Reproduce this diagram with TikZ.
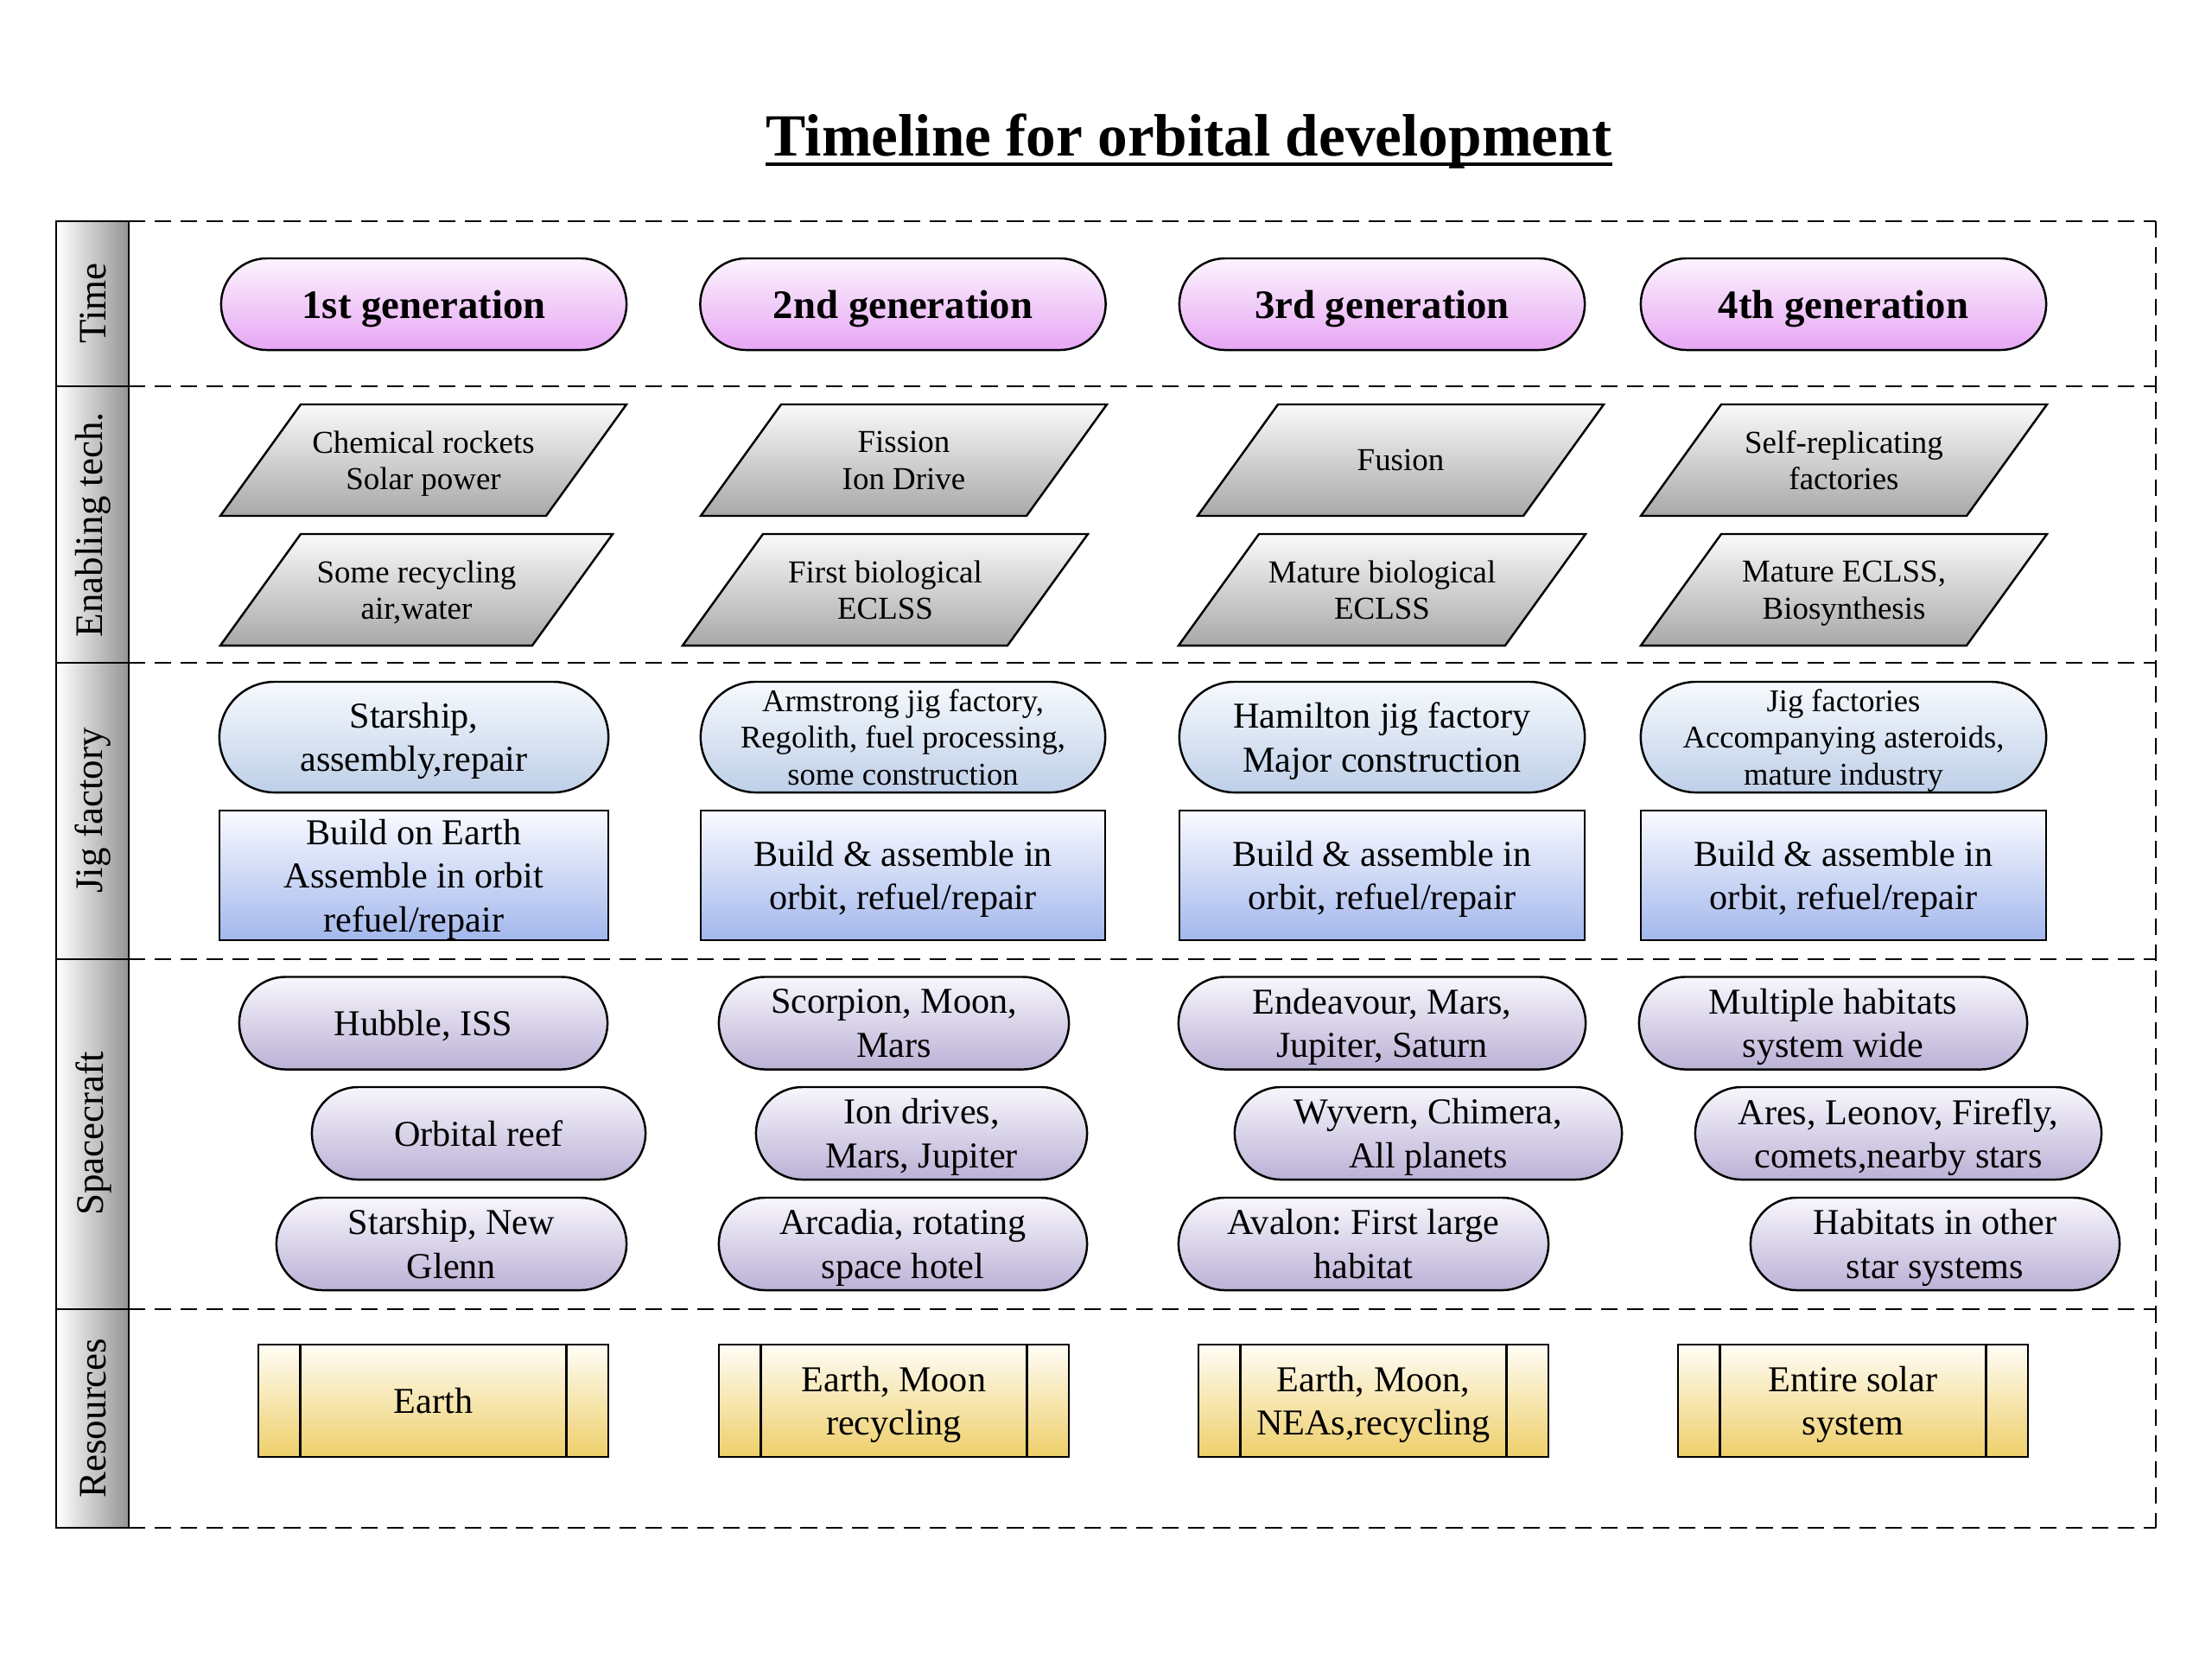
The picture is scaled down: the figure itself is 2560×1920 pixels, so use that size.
\documentclass[tikz,border=0pt]{standalone}
\usepackage{fontspec}
\setmainfont{Liberation Serif}
\usetikzlibrary{calc}
\frenchspacing
\definecolor{pinkT}{RGB}{252,244,253}
\definecolor{pinkB}{RGB}{230,166,244}
\definecolor{grayT}{RGB}{250,250,250}
\definecolor{grayB}{RGB}{168,168,168}
\definecolor{jpT}{RGB}{247,250,253}
\definecolor{jpB}{RGB}{190,207,232}
\definecolor{jrT}{RGB}{250,251,255}
\definecolor{jrB}{RGB}{163,183,236}
\definecolor{scT}{RGB}{248,246,252}
\definecolor{scB}{RGB}{187,177,214}
\definecolor{resT}{RGB}{255,253,246}
\definecolor{resB}{RGB}{238,207,106}
\tikzset{
  base/.style={draw=black, line width=0.7pt, align=center, inner sep=0pt, text depth=0pt,
    font=\fontsize{12}{14.4}\selectfont},
  timepill/.style={base, top color=pinkT, bottom color=pinkB, minimum width=4.69cm,
    minimum height=1.06cm, rounded corners=0.53cm, font=\fontsize{13.3}{16}\selectfont\bfseries},
  paral/.style={draw=black, line width=0.7pt, top color=grayT, bottom color=grayB},
  ptext/.style={align=center, inner sep=0pt, text depth=0pt, font=\fontsize{10.5}{12.1}\selectfont},
  jigpill/.style={base, top color=jpT, bottom color=jpB, minimum height=1.28cm, rounded corners=0.64cm},
  jigsmall/.style={jigpill, font=\fontsize{10.4}{12.1}\selectfont},
  jigrect/.style={base, top color=jrT, bottom color=jrB, minimum height=1.50cm},
  scpill/.style={base, top color=scT, bottom color=scB, minimum height=1.07cm, rounded corners=0.535cm},
  resbox/.style={base, top color=resT, bottom color=resB, minimum width=4.05cm, minimum height=1.30cm},
  rowlab/.style={rotate=90, inner sep=0pt, font=\fontsize{12.8}{15}\selectfont},
  dashline/.style={line width=0.8pt, dash pattern=on 5.5pt off 3pt},
  solidline/.style={line width=0.8pt}
}
\newcommand{\paral}[5]{%
  \path[paral] ({#2+93},{#4}) -- ({#2+93+#3},{#4}) -- ({#2+#3},{#4+129}) -- ({#2},{#4+129}) -- cycle;
  \node[ptext] (#1) at ({#2+#3/2+46.5},{#4+64.5}) {#5};
}
\newcommand{\resbars}[1]{%
  \draw[line width=0.7pt] ([xshift=0.5cm]#1.north west) -- ([xshift=0.5cm]#1.south west);
  \draw[line width=0.7pt] ([xshift=-0.5cm]#1.north east) -- ([xshift=-0.5cm]#1.south east);
}
\begin{document}
\begin{tikzpicture}[x=0.01cm, y=-0.01cm]
\useasboundingbox (0,0) rectangle (2560,1920);
\fill[white] (0,0) rectangle (2560,1920);

% title
\node[inner sep=0pt, font=\fontsize{19.7}{24}\selectfont\bfseries] (title) at (1376,163) {Timeline for orbital development};
\draw[line width=1pt] ([yshift=-2.8pt]title.base west) -- ([yshift=-2.8pt]title.base east);

% frame
\path[draw, solidline, left color=white, right color=black!42] (65,256) rectangle (149,1768);
\foreach \yy in {447,767,1110,1515} \draw[solidline] (65,\yy) -- (149,\yy);
\foreach \yy in {256,447,767,1110,1515,1768} \draw[dashline] (149,\yy) -- (2495,\yy);
\draw[dashline] (2495,256) -- (2495,1768);

% row labels
\node[rowlab] (lTime) at (108,351) {Time};
\node[rowlab] (lTech) at (108,607) {Enabling tech.};
\node[rowlab] (lJig) at (108,938) {Jig factory};
\node[rowlab] (lCraft) at (108,1312) {Spacecraft};
\node[rowlab] (lRes) at (108,1641) {Resources};

% time row
\node[timepill] (t1) at (490.5,352) {1st generation};
\node[timepill] (t2) at (1045,352) {2nd generation};
\node[timepill] (t3) at (1599.5,352) {3rd generation};
\node[timepill] (t4) at (2133.5,352) {4th generation};

% enabling tech
\paral{e1a}{255}{377}{468}{Chemical rockets\\Solar power}
\paral{e1b}{255}{361}{618}{Some recycling\\air,water}
\paral{e2a}{811}{377}{468}{Fission\\Ion Drive}
\paral{e2b}{790}{376}{618}{First biological\\ECLSS}
\paral{e3a}{1386}{377}{468}{Fusion}
\paral{e3b}{1364}{378}{618}{Mature biological\\ECLSS}
\paral{e4a}{1899}{377}{468}{Self-replicating\\factories}
\paral{e4b}{1899}{377}{618}{Mature ECLSS,\\Biosynthesis}

% jig factory
\node[jigpill, minimum width=4.50cm] (j1) at (479,853) {Starship,\\assembly,repair};
\node[jigsmall, minimum width=4.68cm] (j2) at (1045,853) {Armstrong jig factory,\\Regolith, fuel processing,\\some construction};
\node[jigpill, minimum width=4.69cm] (j3) at (1599.5,853) {Hamilton jig factory\\Major construction};
\node[jigsmall, minimum width=4.69cm] (j4) at (2133.5,853) {Jig factories\\Accompanying asteroids,\\mature industry};
\node[jigrect, minimum width=4.50cm] (b1) at (479,1013) {Build on Earth\\Assemble in orbit\\refuel/repair};
\node[jigrect, minimum width=4.68cm] (b2) at (1045,1013) {Build \& assemble in\\orbit, refuel/repair};
\node[jigrect, minimum width=4.69cm] (b3) at (1599.5,1013) {Build \& assemble in\\orbit, refuel/repair};
\node[jigrect, minimum width=4.69cm] (b4) at (2133.5,1013) {Build \& assemble in\\orbit, refuel/repair};

% spacecraft
\node[scpill, minimum width=4.26cm] (s11) at (490,1184) {Hubble, ISS};
\node[scpill, minimum width=3.86cm] (s12) at (554,1311.5) {Orbital reef};
\node[scpill, minimum width=4.05cm] (s13) at (522.5,1439.5) {Starship, New\\Glenn};
\node[scpill, minimum width=4.05cm] (s21) at (1034.5,1184) {Scorpion, Moon,\\Mars};
\node[scpill, minimum width=3.83cm] (s22) at (1066.5,1311.5) {Ion drives,\\Mars, Jupiter};
\node[scpill, minimum width=4.26cm] (s23) at (1045,1439.5) {Arcadia, rotating\\space hotel};
\node[scpill, minimum width=4.71cm] (s31) at (1599.5,1184) {Endeavour, Mars,\\Jupiter, Saturn};
\node[scpill, minimum width=4.48cm] (s32) at (1653,1311.5) {Wyvern, Chimera,\\All planets};
\node[scpill, minimum width=4.28cm] (s33) at (1578,1439.5) {Avalon: First large\\habitat};
\node[scpill, minimum width=4.49cm] (s41) at (2121.5,1184) {Multiple habitats\\system wide};
\node[scpill, minimum width=4.70cm] (s42) at (2197,1311.5) {Ares, Leonov, Firefly,\\comets,nearby stars};
\node[scpill, minimum width=4.27cm] (s43) at (2239.5,1439.5) {Habitats in other\\star systems};

% resources
\node[resbox] (r1) at (501.5,1621) {Earth};
\node[resbox] (r2) at (1034.5,1621) {Earth, Moon\\recycling};
\node[resbox] (r3) at (1589.5,1621) {Earth, Moon,\\NEAs,recycling};
\node[resbox] (r4) at (2144.5,1621) {Entire solar\\system};
\resbars{r1}
\resbars{r2}
\resbars{r3}
\resbars{r4}
\end{tikzpicture}
\end{document}
